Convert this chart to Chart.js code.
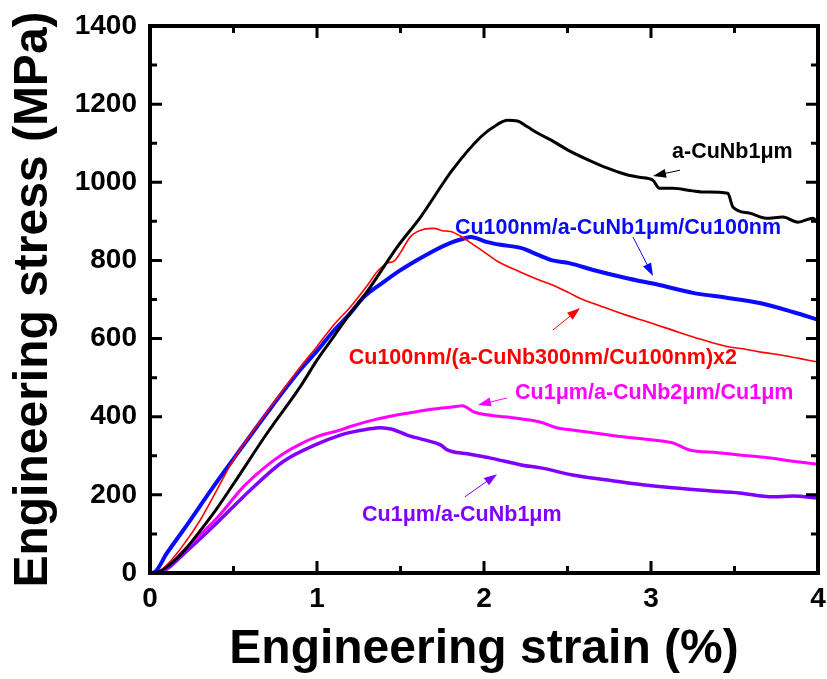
<!DOCTYPE html>
<html>
<head>
<meta charset="utf-8">
<script src="https://cdn.jsdelivr.net/npm/chart.js@4.4.1/dist/chart.umd.min.js"></script>
<style>
  html, body { margin: 0; padding: 0; background: #fff; }
  #wrap { width: 827px; height: 679px; }
</style>
</head>
<body>
<div id="wrap"><canvas id="chart"></canvas></div>
<script>
// stress-strain curves (strain in %, stress in MPa)
const blackX = [0, 0.05, 0.1, 0.2, 0.3, 0.4, 0.5, 0.7, 0.9, 1.0, 1.1, 1.2, 1.3, 1.48, 1.62, 1.81, 1.98, 2.08, 2.14, 2.2, 2.26, 2.32, 2.41, 2.5, 2.62, 2.74, 2.85, 2.93, 3.01, 3.05, 3.13, 3.25, 3.33, 3.46, 3.49, 3.59, 3.69, 3.79, 3.88, 3.97, 4.0]
const blackY = [0, 3, 15, 55, 108, 165, 228, 357, 477, 545, 605, 665, 720, 834, 911, 1031, 1116, 1148, 1159, 1157, 1142, 1126, 1106, 1083, 1058, 1036, 1020, 1013, 1006, 985, 985, 978, 975, 972, 937, 921, 908, 911, 898, 908, 895]

const redX = [0, 0.05, 0.1, 0.2, 0.3, 0.4, 0.5, 0.7, 0.9, 1.0, 1.1, 1.2, 1.3, 1.36, 1.42, 1.46, 1.5, 1.56, 1.64, 1.7, 1.75, 1.8, 1.86, 1.92, 2.0, 2.08, 2.22, 2.33, 2.41, 2.51, 2.57, 2.7, 2.85, 3.0, 3.16, 3.3, 3.46, 3.55, 3.65, 3.8, 3.9, 4.0]
const redY = [0, 3, 20, 72, 135, 212, 290, 412, 527, 580, 635, 681, 735, 771, 793, 798, 820, 861, 880, 882, 876, 874, 862, 845, 822, 798, 770, 750, 737, 717, 704, 683, 660, 640, 617, 598, 579, 574, 566, 556, 548, 540]

const blueX = [0, 0.03, 0.1, 0.2, 0.38, 0.5, 0.7, 0.9, 1.0, 1.1, 1.2, 1.28, 1.4, 1.5, 1.6, 1.7, 1.8, 1.88, 1.92, 2.02, 2.1, 2.22, 2.32, 2.41, 2.51, 2.66, 2.85, 3.05, 3.25, 3.46, 3.65, 3.85, 4.0]
const blueY = [0, 3, 50, 110, 221, 292, 409, 520, 568, 620, 665, 706, 745, 775, 801, 825, 845, 856, 860, 847, 840, 832, 815, 800, 793, 775, 755, 737, 717, 704, 691, 668, 648]

const magentaX = [0, 0.05, 0.1, 0.2, 0.3, 0.4, 0.56, 0.7, 0.8, 0.9, 1.0, 1.14, 1.2, 1.34, 1.54, 1.7, 1.81, 1.87, 1.94, 2.14, 2.34, 2.44, 2.53, 2.62, 2.8, 3.0, 3.13, 3.23, 3.4, 3.53, 3.7, 3.85, 4.0]
const magentaY = [0, 3, 14, 57, 98, 140, 221, 275, 306, 330, 349, 366, 375, 392, 409, 420, 425, 428, 412, 399, 386, 371, 366, 361, 350, 341, 333, 315, 308, 302, 295, 286, 278]

const purpleX = [0, 0.05, 0.1, 0.2, 0.4, 0.6, 0.8, 1.0, 1.14, 1.2, 1.3, 1.38, 1.45, 1.54, 1.65, 1.74, 1.78, 1.9, 2.04, 2.23, 2.34, 2.53, 2.74, 2.95, 3.13, 3.33, 3.53, 3.73, 3.85, 4.0]
const purpleY = [0, 2, 10, 48, 128, 212, 286, 330, 353, 360, 368, 372, 368, 353, 340, 328, 315, 305, 294, 276, 269, 251, 238, 226, 218, 211, 205, 195, 197, 192]

const xTicksStep = 1
const yTicksStep = 200

function pts(xs, ys) {
  return xs.map((v, i) => ({ x: v, y: ys[i] }))
}

// text labels and arrows, placed in data units
const notes = [
  { text: 'a-CuNb1\u03BCm', color: '#000000', x: 3.126, y: 1078, from: [3.174, 1031], to: [3.012, 1016] },
  { text: 'Cu100nm/a-CuNb1\u03BCm/Cu100nm', color: '#0a0aff', x: 1.826, y: 883, from: [2.892, 860], to: [3.012, 760] },
  { text: 'Cu100nm/(a-CuNb300nm/Cu100nm)x2', color: '#ff0000', x: 1.19, y: 550, from: [2.413, 622], to: [2.575, 678] },
  { text: 'Cu1\u03BCm/a-CuNb2\u03BCm/Cu1\u03BCm', color: '#ff00ff', x: 2.186, y: 461, from: [2.138, 448], to: [1.964, 430] },
  { text: 'Cu1\u03BCm/a-CuNb1\u03BCm', color: '#8000ff', x: 1.27, y: 148, from: [1.886, 195], to: [2.078, 253] }
]

const frameTicks = {
  id: 'frameTicks',
  afterDatasetsDraw(chart) {
    const { ctx, chartArea: a, scales: { x, y } } = chart
    ctx.save()
    ctx.strokeStyle = '#000'
    ctx.lineWidth = 3
    ctx.beginPath()
    for (let v = x.min; v <= x.max + 1e-9; v += xTicksStep / 2) {
      const px = x.getPixelForValue(v)
      const len = Math.abs(v / xTicksStep - Math.round(v / xTicksStep)) < 1e-6 ? 12 : 7
      ctx.moveTo(px, a.bottom); ctx.lineTo(px, a.bottom - len)
      ctx.moveTo(px, a.top); ctx.lineTo(px, a.top + len)
    }
    for (let v = y.min; v <= y.max + 1e-9; v += yTicksStep / 2) {
      const py = y.getPixelForValue(v)
      const len = (v % yTicksStep) === 0 ? 12 : 7
      ctx.moveTo(a.left, py); ctx.lineTo(a.left + len, py)
      ctx.moveTo(a.right, py); ctx.lineTo(a.right - len, py)
    }
    ctx.stroke()
    ctx.lineWidth = 4
    ctx.strokeRect(a.left, a.top, a.right - a.left, a.bottom - a.top)
    ctx.restore()
  },
  afterDraw(chart) {
    const { ctx, scales: { x, y } } = chart
    ctx.save()
    ctx.font = 'bold 21.5px "Liberation Sans", Arial, sans-serif'
    ctx.textBaseline = 'middle'
    ctx.textAlign = 'left'
    notes.forEach(n => {
      ctx.fillStyle = n.color
      ctx.fillText(n.text, x.getPixelForValue(n.x), y.getPixelForValue(n.y))
      const x0 = x.getPixelForValue(n.from[0]), y0 = y.getPixelForValue(n.from[1])
      const x1 = x.getPixelForValue(n.to[0]), y1 = y.getPixelForValue(n.to[1])
      const ang = Math.atan2(y1 - y0, x1 - x0)
      ctx.strokeStyle = n.color
      ctx.lineWidth = 1
      ctx.beginPath()
      ctx.moveTo(x0, y0)
      ctx.lineTo(x1 - 8 * Math.cos(ang), y1 - 8 * Math.sin(ang))
      ctx.stroke()
      ctx.beginPath()
      ctx.moveTo(x1, y1)
      ctx.lineTo(x1 - 13 * Math.cos(ang) + 4.5 * Math.sin(ang), y1 - 13 * Math.sin(ang) - 4.5 * Math.cos(ang))
      ctx.lineTo(x1 - 13 * Math.cos(ang) - 4.5 * Math.sin(ang), y1 - 13 * Math.sin(ang) + 4.5 * Math.cos(ang))
      ctx.closePath()
      ctx.fill()
    })
    ctx.restore()
  }
}

const tickFont = { family: '"Liberation Sans", Arial, sans-serif', size: 28, weight: 'bold' }
const titleFont = { family: '"Liberation Sans", Arial, sans-serif', size: 48, weight: 'bold' }

new Chart(document.getElementById('chart'), {
  type: 'line',
  data: {
    datasets: [
      { label: 'a-CuNb1\u03BCm', data: pts(blackX, blackY), borderColor: '#000000', borderWidth: 3 },
      { label: 'Cu100nm/(a-CuNb300nm/Cu100nm)x2', data: pts(redX, redY), borderColor: '#ff0000', borderWidth: 1.6 },
      { label: 'Cu100nm/a-CuNb1\u03BCm/Cu100nm', data: pts(blueX, blueY), borderColor: '#0a0aff', borderWidth: 4 },
      { label: 'Cu1\u03BCm/a-CuNb2\u03BCm/Cu1\u03BCm', data: pts(magentaX, magentaY), borderColor: '#ff00ff', borderWidth: 3 },
      { label: 'Cu1\u03BCm/a-CuNb1\u03BCm', data: pts(purpleX, purpleY), borderColor: '#8000ff', borderWidth: 3.5 }
    ]
  },
  options: {
    responsive: true,
    maintainAspectRatio: false,
    animation: false,
    parsing: false,
    elements: { point: { radius: 0 }, line: { cubicInterpolationMode: 'monotone', fill: false } },
    layout: { padding: { left: 0, top: 26, right: 9, bottom: 0 } },
    plugins: { legend: { display: false }, tooltip: { enabled: false } },
    scales: {
      x: {
        type: 'linear', min: 0, max: 4,
        grid: { display: false, drawTicks: false },
        border: { display: false },
        ticks: { stepSize: xTicksStep, color: '#000', font: tickFont, padding: 9, maxRotation: 0 },
        title: { display: true, text: 'Engineering strain (%)', color: '#000', font: titleFont, padding: { top: 0, bottom: 0 } },
        afterFit(scale) { scale.height = 106; scale.paddingLeft = 0; scale.paddingRight = 0 }
      },
      y: {
        type: 'linear', min: 0, max: 1400,
        grid: { display: false, drawTicks: false },
        border: { display: false },
        ticks: { stepSize: yTicksStep, color: '#000', font: tickFont, padding: 13, callback: v => String(v) },
        title: { display: true, text: 'Engineering stress (MPa)', color: '#000', font: titleFont, padding: { top: 5, bottom: 0 } },
        afterFit(scale) { scale.width = 150; scale.paddingTop = 0; scale.paddingBottom = 0 }
      }
    }
  },
  plugins: [frameTicks]
})
</script>
</body>
</html>
